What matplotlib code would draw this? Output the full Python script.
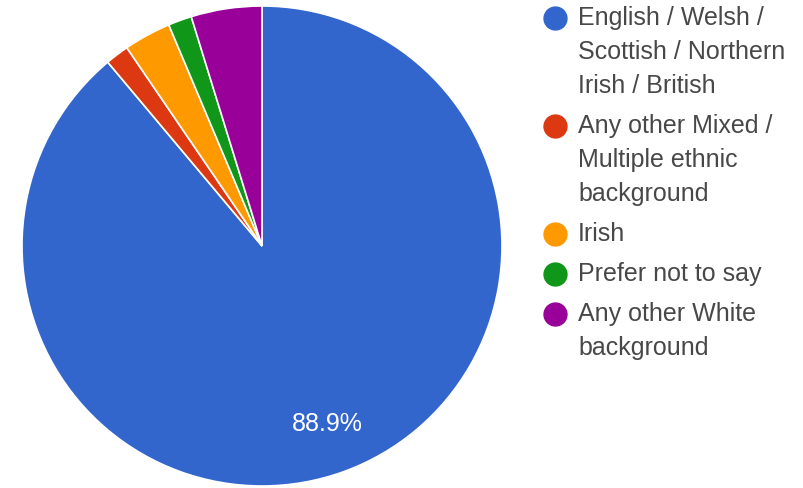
import matplotlib
matplotlib.use("Agg")
import matplotlib.pyplot as plt
from matplotlib.lines import Line2D

plt.rcParams["font.family"] = ["Liberation Sans", "DejaVu Sans"]

# responses (56 / 63 = 88.9%)
categories = ["English / Welsh /\nScottish / Northern\nIrish / British",
              "Any other Mixed /\nMultiple ethnic\nbackground",
              "Irish",
              "Prefer not to say",
              "Any other White\nbackground"]
counts = [56, 1, 2, 1, 3]
colors = ["#3366cc", "#dc3912", "#ff9900", "#109618", "#990099"]

W, H = 804, 488
fig = plt.figure(figsize=(W / 100, H / 100), dpi=100)
fig.patch.set_facecolor("white")

# pie: centre (262, 246) px, radius 240 px
cx, cy, r = 262, 246, 240
ax = fig.add_axes([(cx - r) / W, (H - cy - r) / H, 2 * r / W, 2 * r / H])


def pct(p):
    return f"{p:.1f}%" if p > 10 else ""


wedges, texts, autotexts = ax.pie(
    counts, colors=colors, startangle=90, counterclock=False,
    autopct=pct, pctdistance=0.79,
    wedgeprops=dict(edgecolor="white", linewidth=1.2),
    textprops=dict(color="white", fontsize=18))
ax.set_xlim(-1, 1); ax.set_ylim(-1, 1)
ax.set_aspect("equal")

# legend, drawn by hand in pixel coords
lx_marker, lx_text = 555, 578
y = 18
line_h, gap = 34, 40
for lab, col in zip(categories, colors):
    fig.add_artist(Line2D([lx_marker / W], [1 - y / H], marker="o",
                          markersize=16.5, color=col, linestyle="none",
                          transform=fig.transFigure))
    for i, line in enumerate(lab.split("\n")):
        fig.text(lx_text / W, 1 - (y + i * line_h) / H, line, fontsize=18,
                 color="#484848", va="center", ha="left")
    y += (len(lab.split("\n")) - 1) * line_h + gap

fig.savefig("out.png", dpi=100, facecolor="white")
